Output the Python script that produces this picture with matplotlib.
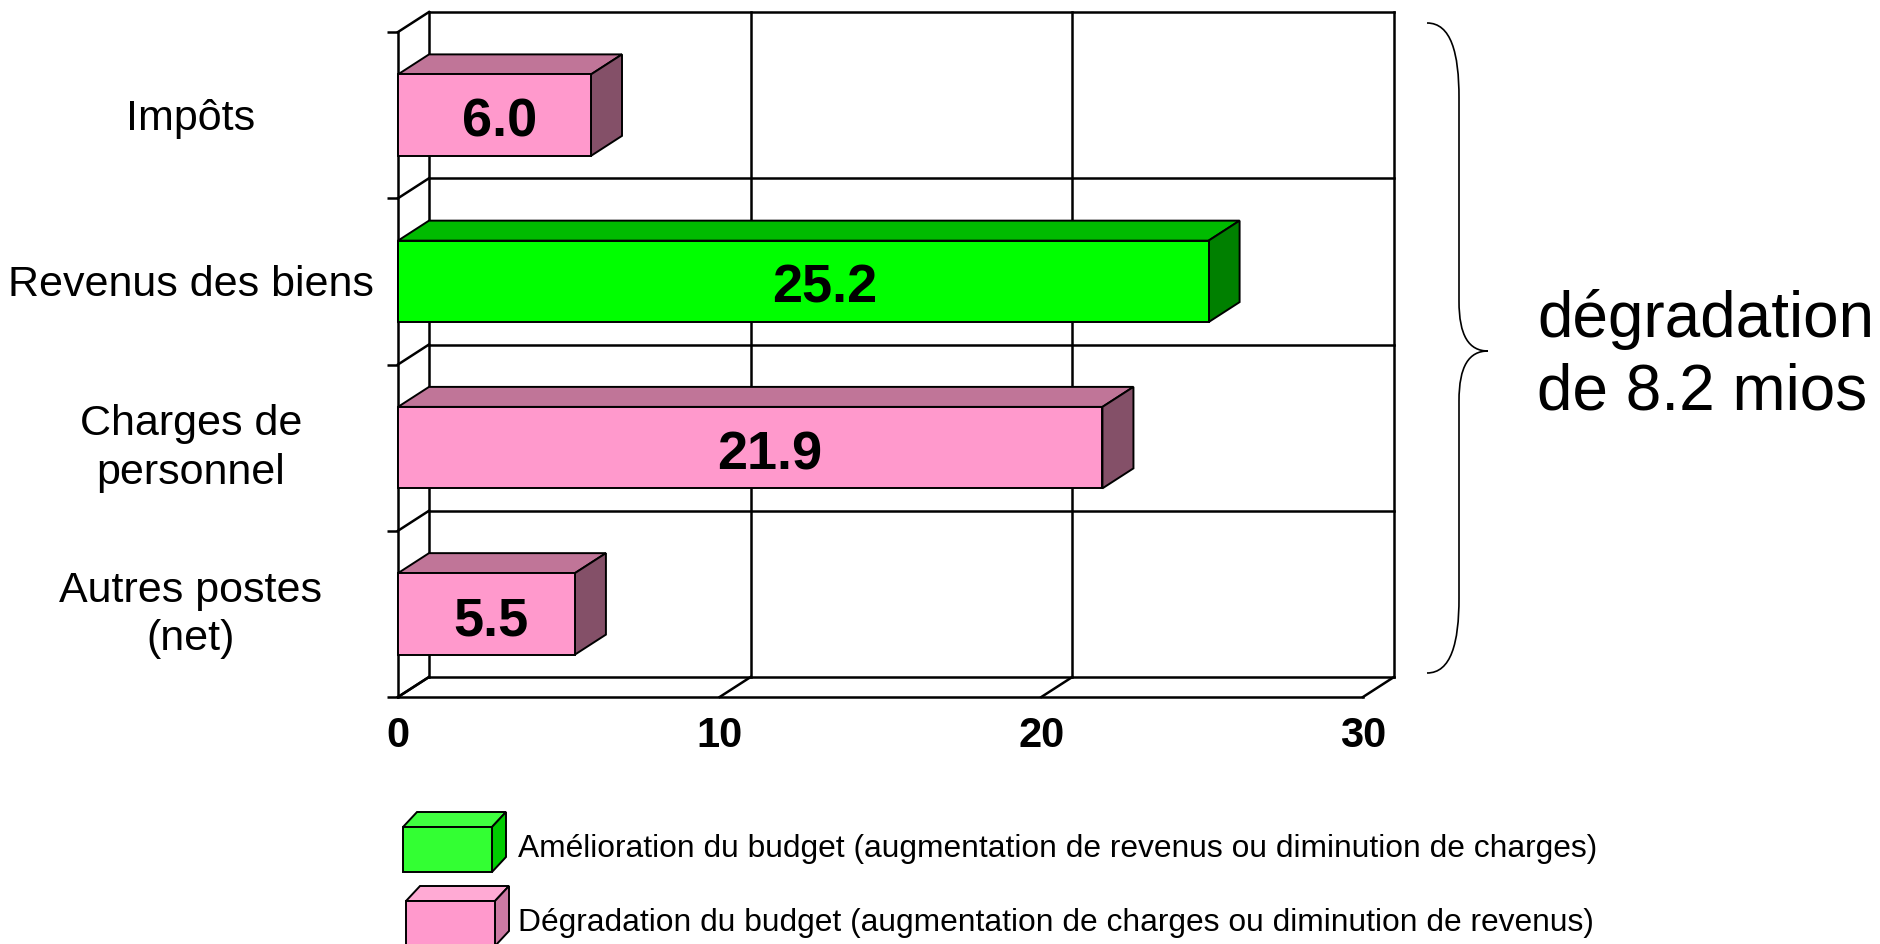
import matplotlib
matplotlib.use("Agg")
import matplotlib.pyplot as plt
from matplotlib.patches import Polygon, PathPatch
from matplotlib.path import Path
from matplotlib.transforms import IdentityTransform

# ---------------- data ----------------
categories = ["Impôts", "Revenus des biens", "Charges de\npersonnel", "Autres postes\n(net)"]
values = [6.0, 25.2, 21.9, 5.5]
kinds = ["deg", "amel", "deg", "deg"]
value_labels = ["6.0", "25.2", "21.9", "5.5"]
x_ticks = [0, 10, 20, 30]
x_tick_labels = ["0", "10", "20", "30"]
legend_kinds = ["amel", "deg"]
legend_labels = [
    "Amélioration du budget (augmentation de revenus ou diminution de charges)",
    "Dégradation du budget (augmentation de charges ou diminution de revenus)",
]
summary_text = "dégradation\nde 8.2 mios"

# ---------------- style ----------------
plt.rcParams["font.family"] = ["Liberation Sans", "DejaVu Sans"]
bar_colors = {
    "deg": ("#FF99CC", "#C07598", "#845068"),   # front, top, side
    "amel": ("#00FF00", "#00BB00", "#008000"),
}
legend_colors = {
    "deg": ("#FF99CC", "#FFAAD4", "#CC7AA3"),
    "amel": ("#33FF33", "#40FF40", "#00CC00"),
}

W, H = 1881, 945
fig = plt.figure(figsize=(W / 100, H / 100), dpi=100)
fig.patch.set_facecolor("white")

AX_L, AX_R, AX_T, AX_B = 398, 1363, 33, 698
ax = fig.add_axes([AX_L / W, 1 - AX_B / H, (AX_R - AX_L) / W, (AX_B - AX_T) / H])
n = len(categories)
xmax = x_ticks[-1]
ax.set_xlim(0, xmax)
ax.set_ylim(n - 0.5, -0.5)
ax.patch.set_visible(False)

px_x = (AX_R - AX_L) / xmax
px_y = (AX_B - AX_T) / n
# depth of the 3D effect (pixels -> data units)
DX_PX, DY_PX = 31, 20
ddx = DX_PX / px_x
ddy = -DY_PX / px_y

lw_wall = 1.8
kw = dict(color="black", lw=lw_wall, clip_on=False, zorder=1, solid_capstyle="projecting")

ymin_b, ymax_b = -0.5, n - 0.5
# back wall frame
ax.plot([0 + ddx, xmax + ddx], [ymin_b + ddy, ymin_b + ddy], **kw)
ax.plot([xmax + ddx, xmax + ddx], [ymin_b + ddy, ymax_b + ddy], **kw)
ax.plot([0 + ddx, 0 + ddx], [ymin_b + ddy, ymax_b + ddy], **kw)
ax.plot([0 + ddx, xmax + ddx], [ymax_b + ddy, ymax_b + ddy], **kw)
# horizontal gridlines on back wall
for k in range(1, n):
    yb = k - 0.5
    ax.plot([0 + ddx, xmax + ddx], [yb + ddy, yb + ddy], **kw)
# vertical gridlines on back wall
for xt in x_ticks[1:-1]:
    ax.plot([xt + ddx, xt + ddx], [ymin_b + ddy, ymax_b + ddy], **kw)
# side wall diagonals
for k in range(n + 1):
    yb = k - 0.5
    ax.plot([0, ddx], [yb, yb + ddy], **kw)
# floor diagonals
for xt in x_ticks:
    ax.plot([xt, xt + ddx], [ymax_b, ymax_b + ddy], **kw)

# spines
for s in ["top", "right"]:
    ax.spines[s].set_visible(False)
for s in ["left", "bottom"]:
    ax.spines[s].set_linewidth(lw_wall)
    ax.spines[s].set_color("black")

# ticks
ax.set_xticks(x_ticks)
ax.set_xticklabels(x_tick_labels, fontsize=30, fontweight="bold")
ax.tick_params(axis="x", length=0, pad=13)
ax.set_yticks([k - 0.5 for k in range(n + 1)])
ax.set_yticklabels([])
ax.tick_params(axis="y", which="major", length=8, width=lw_wall, direction="out")

# category labels
lab_x = -207 / px_x
for i, c in enumerate(categories):
    off = 0 if "\n" in c else 3
    ax.text(lab_x, i + off / px_y, c, ha="center", va="center", fontsize=31,
            linespacing=1.27, clip_on=False)

# bars
bh = 0.49
for i, (v, kd, lab) in enumerate(zip(values, kinds, value_labels)):
    front, top, side = bar_colors[kd]
    y0, y1 = i - bh / 2, i + bh / 2
    pf = Polygon([(0, y0), (v, y0), (v, y1), (0, y1)], closed=True,
                 facecolor=front, edgecolor="black", lw=1.4, zorder=3, clip_on=False)
    pt = Polygon([(0, y0), (v, y0), (v + ddx, y0 + ddy), (0 + ddx, y0 + ddy)], closed=True,
                 facecolor=top, edgecolor="black", lw=1.4, zorder=3, clip_on=False)
    ps = Polygon([(v, y0), (v + ddx, y0 + ddy), (v + ddx, y1 + ddy), (v, y1)], closed=True,
                 facecolor=side, edgecolor="black", lw=1.4, zorder=3, clip_on=False)
    for p in (pt, ps, pf):
        ax.add_patch(p)
    ax.text(v * 0.527, i + 6.5 / px_y, lab, ha="center", va="center",
            fontsize=39, fontweight="bold", zorder=5)

# brace (figure pixel coordinates, y from top)
def P(x, y):
    return (x, H - y)

xL, xM, xR = 1427, 1459, 1488
yT, yB, yC = 24, 674, 352
verts = [P(xL, yT),
         P(xL + 24, yT), P(xM, yT + 30), P(xM, yT + 75),
         P(xM, yC - 50),
         P(xM, yC - 15), P(xM + 10, yC), P(xR, yC),
         P(xM + 10, yC), P(xM, yC + 15), P(xM, yC + 50),
         P(xM, yB - 75),
         P(xM, yB - 30), P(xL + 24, yB), P(xL, yB)]
codes = [Path.MOVETO,
         Path.CURVE4, Path.CURVE4, Path.CURVE4,
         Path.LINETO,
         Path.CURVE4, Path.CURVE4, Path.CURVE4,
         Path.CURVE4, Path.CURVE4, Path.CURVE4,
         Path.LINETO,
         Path.CURVE4, Path.CURVE4, Path.CURVE4]
fig.add_artist(PathPatch(Path(verts, codes), facecolor="none", edgecolor="black",
                         lw=1.2, transform=IdentityTransform()))
fig.text(1537 / W, 1 - 356 / H, summary_text, fontsize=46, ha="left", va="center",
         linespacing=1.26)

# legend (manual 3D boxes)
box_w, box_h, bdx, bdy = 89, 45, 14, 15
legend_pos = [(403, 828), (406, 902)]
for (lx, ly), kd, lab in zip(legend_pos, legend_kinds, legend_labels):
    front, top, side = legend_colors[kd]
    f = [P(lx, ly), P(lx + box_w, ly), P(lx + box_w, ly + box_h), P(lx, ly + box_h)]
    t = [P(lx, ly), P(lx + box_w, ly), P(lx + box_w + bdx, ly - bdy), P(lx + bdx, ly - bdy)]
    s = [P(lx + box_w, ly), P(lx + box_w + bdx, ly - bdy),
         P(lx + box_w + bdx, ly + box_h - bdy), P(lx + box_w, ly + box_h)]
    for poly, c in ((t, top), (s, side), (f, front)):
        fig.add_artist(Polygon(poly, closed=True, facecolor=c, edgecolor="black", lw=1.4,
                               transform=IdentityTransform()))
    fig.text(518 / W, 1 - (ly + box_h / 2 - 1) / H, lab, fontsize=22.9, ha="left", va="center")

fig.savefig("out.png", dpi=100, facecolor="white")
